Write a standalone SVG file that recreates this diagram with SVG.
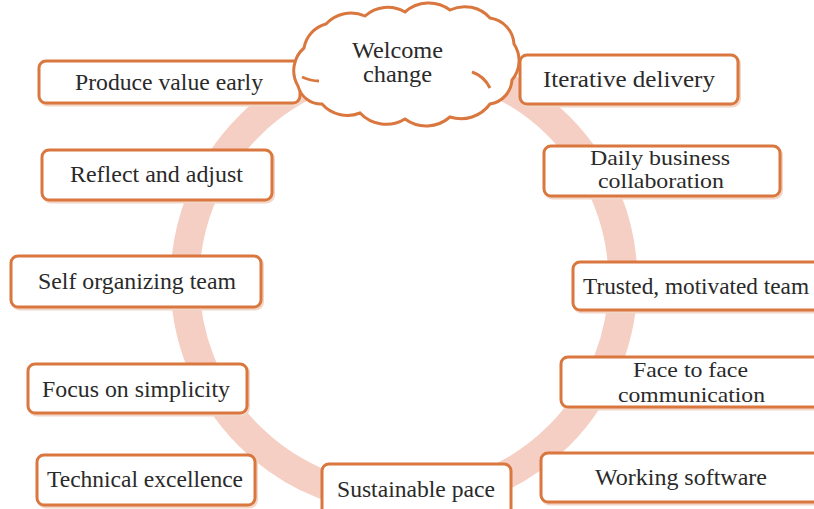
<svg xmlns="http://www.w3.org/2000/svg" width="814" height="509" viewBox="0 0 814 509">
  <style>
    .box { fill: #ffffff; stroke: #d9773e; stroke-width: 3; }
    .shadow { fill: none; stroke: #f2d6c8; stroke-width: 3; }
    .lbl { font-family: "Liberation Serif", "Times New Roman", serif; font-size: 24px; fill: #2a2a2a; }
    .two { font-size: 21px; }
    .ring { fill: none; stroke: #f5cfc4; stroke-width: 29; }
  </style>

  <!-- cycle ring behind the boxes -->
  <g id="connectors">
    <circle class="ring" cx="404" cy="281" r="219"/>
  </g>

  <g id="produce-value-early">
    <rect class="shadow" x="40.5" y="63" width="261" height="42" rx="7"/>
    <rect class="box" x="39" y="61" width="261" height="42" rx="7"/>
    <text class="lbl" x="75" y="90" textLength="188" lengthAdjust="spacingAndGlyphs">Produce value early</text>
  </g>

  <g id="welcome-change">
    <path class="box" d="M298,86 A30,30 0 0 1 304,48 A30,30 0 0 1 326,24 A34,34 0 0 1 365,16 A34,34 0 0 1 405,12 A36,36 0 0 1 450,10 A34,34 0 0 1 490,18 A28,28 0 0 1 514,44 A30,30 0 0 1 512,80 A26,26 0 0 1 490,104 A36,36 0 0 1 450,117 A36,36 0 0 1 405,119 A36,36 0 0 1 360,113 A34,34 0 0 1 322,104 A24,24 0 0 1 298,86 Z"/>
    <path fill="none" stroke="#d9773e" stroke-width="3" d="M302,77 Q311,81 319,81"/>
    <path fill="none" stroke="#d9773e" stroke-width="3" d="M472,72 Q484,76 490,88"/>
    <text class="lbl" x="352" y="58" textLength="91" lengthAdjust="spacingAndGlyphs">Welcome</text>
    <text class="lbl" x="363" y="82" textLength="69" lengthAdjust="spacingAndGlyphs">change</text>
  </g>

  <g id="iterative-delivery">
    <rect class="shadow" x="521.5" y="57" width="218" height="49" rx="7"/>
    <rect class="box" x="520" y="55" width="218" height="49" rx="7"/>
    <text class="lbl" x="543" y="87" textLength="172" lengthAdjust="spacingAndGlyphs">Iterative delivery</text>
  </g>

  <g id="reflect-and-adjust">
    <rect class="shadow" x="43.5" y="152" width="230" height="50" rx="7"/>
    <rect class="box" x="42" y="150" width="230" height="50" rx="7"/>
    <text class="lbl" x="70" y="182" textLength="173" lengthAdjust="spacingAndGlyphs">Reflect and adjust</text>
  </g>

  <g id="daily-business-collaboration">
    <rect class="shadow" x="545.5" y="148" width="236" height="50" rx="7"/>
    <rect class="box" x="544" y="146" width="236" height="50" rx="7"/>
    <text class="lbl two" x="590" y="165" textLength="140" lengthAdjust="spacingAndGlyphs">Daily business</text>
    <text class="lbl two" x="598" y="188" textLength="126" lengthAdjust="spacingAndGlyphs">collaboration</text>
  </g>

  <g id="self-organizing-team">
    <rect class="shadow" x="12.5" y="258" width="250" height="51" rx="7"/>
    <rect class="box" x="11" y="256" width="250" height="51" rx="7"/>
    <text class="lbl" x="38" y="289" textLength="198" lengthAdjust="spacingAndGlyphs">Self organizing team</text>
  </g>

  <g id="trusted-motivated-team">
    <rect class="shadow" x="574.5" y="264" width="260" height="48" rx="7"/>
    <rect class="box" x="573" y="262" width="260" height="48" rx="7"/>
    <text class="lbl" x="583" y="294" textLength="226" lengthAdjust="spacingAndGlyphs">Trusted, motivated team</text>
  </g>

  <g id="focus-on-simplicity">
    <rect class="shadow" x="29.5" y="366" width="219" height="49" rx="7"/>
    <rect class="box" x="28" y="364" width="219" height="49" rx="7"/>
    <text class="lbl" x="42" y="397" textLength="188" lengthAdjust="spacingAndGlyphs">Focus on simplicity</text>
  </g>

  <g id="face-to-face-communication">
    <rect class="shadow" x="562.5" y="359" width="270" height="50" rx="7"/>
    <rect class="box" x="561" y="357" width="270" height="50" rx="7"/>
    <text class="lbl two" x="633" y="377" textLength="115" lengthAdjust="spacingAndGlyphs">Face to face</text>
    <text class="lbl two" x="618" y="402" textLength="147" lengthAdjust="spacingAndGlyphs">communication</text>
  </g>

  <g id="technical-excellence">
    <rect class="shadow" x="38.5" y="457" width="218" height="50" rx="7"/>
    <rect class="box" x="37" y="455" width="218" height="50" rx="7"/>
    <text class="lbl" x="47" y="487" textLength="196" lengthAdjust="spacingAndGlyphs">Technical excellence</text>
  </g>

  <g id="sustainable-pace">
    <rect class="box" x="322" y="464" width="189" height="54" rx="7"/>
    <text class="lbl" x="337" y="497" textLength="158" lengthAdjust="spacingAndGlyphs">Sustainable pace</text>
  </g>

  <g id="working-software">
    <rect class="shadow" x="542.5" y="455" width="290" height="49" rx="7"/>
    <rect class="box" x="541" y="453" width="290" height="49" rx="7"/>
    <text class="lbl" x="595" y="485" textLength="172" lengthAdjust="spacingAndGlyphs">Working software</text>
  </g>
</svg>
